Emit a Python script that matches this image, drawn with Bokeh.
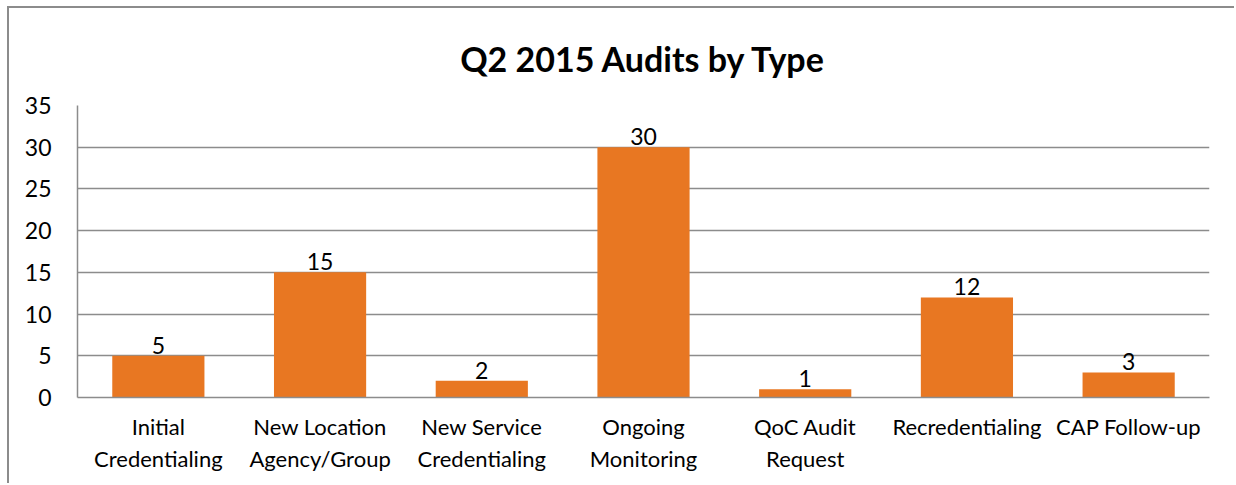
from bokeh.plotting import figure
from bokeh.models import ColumnDataSource, FixedTicker, LabelSet, CategoricalAxis, FactorRange
from bokeh.core.properties import value
from bokeh.embed import file_html
from bokeh.resources import INLINE

# category labels, first and second line
label_line1 = ["Initial", "New Location", "New Service", "Ongoing", "QoC Audit",
               "Recredentialing", "CAP Follow-up"]
label_line2 = ["Credentialing", "Agency/Group", "Credentialing", "Monitoring", "Request", "", ""]
counts = [5, 15, 2, 30, 1, 12, 3]
y_ticks = [0, 5, 10, 15, 20, 25, 30, 35]

FONT = "Lato"
GRAY = "#8c8c8c"
ORANGE = "#E87722"

# make second-line factors unique with zero-width spaces
seen = {}
line2_keys = []
for t in label_line2:
    n = seen.get(t, 0)
    line2_keys.append(t + "\u200b" * n if t else "\u200b" * (n + 1))
    seen[t] = n + 1

src = ColumnDataSource(dict(cat=label_line1, val=counts, lbl=[str(v) for v in counts]))

p = figure(x_range=label_line1, y_range=(0, 35), width=1227, height=477,
           output_backend="svg", toolbar_location=None,
           title="Q2 2015 Audits by Type",
           min_border_left=68, min_border_right=27, min_border_top=40, min_border_bottom=88)
p.styles = {"margin-left": "7px", "margin-top": "6px",
            "border-left": f"2px solid {GRAY}", "border-top": f"2px solid {GRAY}"}
p.extra_x_ranges = {"l2": FactorRange(factors=line2_keys)}

p.vbar(x="cat", top="val", width=0.57, source=src, color=ORANGE, line_color=None)

labels = LabelSet(x="cat", y="val", text="lbl", source=src, text_align="center",
                  text_baseline="alphabetic", y_offset=2, text_font_size=value("23px"),
                  text_font=value(FONT), text_color="black")
p.add_layout(labels)

p.title.text_font = FONT
p.title.text_font_size = "34px"
p.title.text_font_style = "bold"
p.title.align = "center"
p.title.standoff = 54
p.title.text_color = "black"

p.outline_line_color = None
p.xgrid.grid_line_color = None
p.ygrid.grid_line_color = GRAY
p.ygrid.grid_line_width = 1.5
p.yaxis.ticker = FixedTicker(ticks=y_ticks)

ax2 = CategoricalAxis(x_range_name="l2")
p.add_layout(ax2, "below")

for ax in (p.xaxis[0], p.yaxis[0], ax2):
    ax.axis_line_color = GRAY
    ax.axis_line_width = 1.5
    ax.major_tick_line_color = None
    ax.minor_tick_line_color = None
    ax.major_tick_out = 0
    ax.major_tick_in = 0
    ax.major_label_text_font = FONT
    ax.major_label_text_font_size = "22px"
    ax.major_label_text_color = "black"

ax2.axis_line_color = None
p.yaxis.major_label_text_font_size = "23px"
p.yaxis.major_label_standoff = 26
p.xaxis[0].major_label_standoff = 15
ax2.major_label_standoff = 2

open("out.html", "w").write(file_html(p, INLINE))
